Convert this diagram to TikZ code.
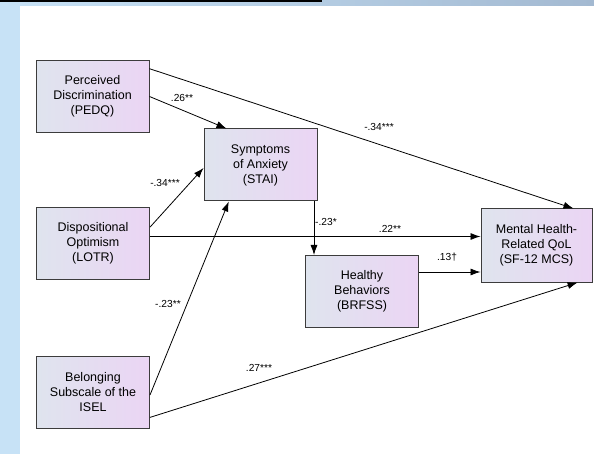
\documentclass[tikz,border=0pt]{standalone}
\usepackage{fontspec}
\setmainfont{Liberation Sans}
\usetikzlibrary{arrows.meta}
\definecolor{paneblue}{HTML}{C7E2F6}
\definecolor{panegrey}{HTML}{A3B9D1}
\definecolor{boxleft}{HTML}{DFE4EE}
\definecolor{boxright}{HTML}{EBD5F4}
\definecolor{boxline}{HTML}{3C3C3C}
\begin{document}
\begin{tikzpicture}
            [x=1pt, y=-1pt,
             var/.style={draw=boxline, line width=1pt, left color=boxleft, right color=boxright,
                         minimum width=113pt, minimum height=72pt, align=center,
                         font=\fontsize{12.5}{15}\selectfont},
             coef/.style={font=\fontsize{10.2}{12}\selectfont, inner sep=1pt},
             arr/.style={-{Latex[length=10pt,width=7pt]}, line width=0.8pt}]
            %\draw [help lines] (0,0) grid (594,454);
            \useasboundingbox (0,0) rectangle (594,454);
            \fill [paneblue] (0,0) rectangle (20,454);
            \shade [left color=paneblue, right color=panegrey] (0,0) rectangle (594,6);
            \fill [black] (0,0) rectangle (322,1.7);
            % variables
            \node [var] (pedq) at (92.5,96.5) {Perceived\\Discrimination\\(PEDQ)};
            \node [var] (lotr) at (93,243.5) {Dispositional\\Optimism\\(LOTR)};
            \node [var] (isel) at (93,392) {Belonging\\Subscale of the\\ISEL};
            \node [var] (stai) at (260.5,165) {Symptoms\\of Anxiety\\(STAI)};
            \node [var] (brfss) at (362,291.5) {Healthy\\Behaviors\\(BRFSS)};
            \node [var, minimum width=111pt, minimum height=73pt] (mcs) at (536.5,245.5) {Mental Health-\\Related QoL\\(SF-12 MCS)};
            % paths
            \draw [arr] (pedq.26) -- (mcs.45);
            \draw [arr] (pedq.east) -- (stai.133);
            \draw [arr] (lotr.16) -- (stai.183);
            \draw [arr] (lotr.7) -- (lotr.7 -| mcs.west);
            \draw [arr] (isel.-3) -- (stai.-131);
            \draw [arr] (isel.-24) -- (mcs.-42);
            \draw [arr] ([xshift=53.5pt]stai.south) -- ([xshift=53.5pt]stai.south |- brfss.north);
            \draw [arr] ([yshift=19.5pt]brfss.east) -- ([yshift=19.5pt]brfss.east -| mcs.west);
            % coefficients
            \node [coef] (c1) at (182,98) {.26**};
            \node [coef] (c2) at (379,127) {-.34***};
            \node [coef] (c3) at (165,183) {-.34***};
            \node [coef] (c4) at (390,229) {.22**};
            \node [coef] (c5) at (326,222) {-.23*};
            \node [coef] (c6) at (447,257) {.13†};
            \node [coef] (c7) at (168,304) {-.23**};
            \node [coef] (c8) at (259,368) {.27***};
        \end{tikzpicture}
\end{document}
